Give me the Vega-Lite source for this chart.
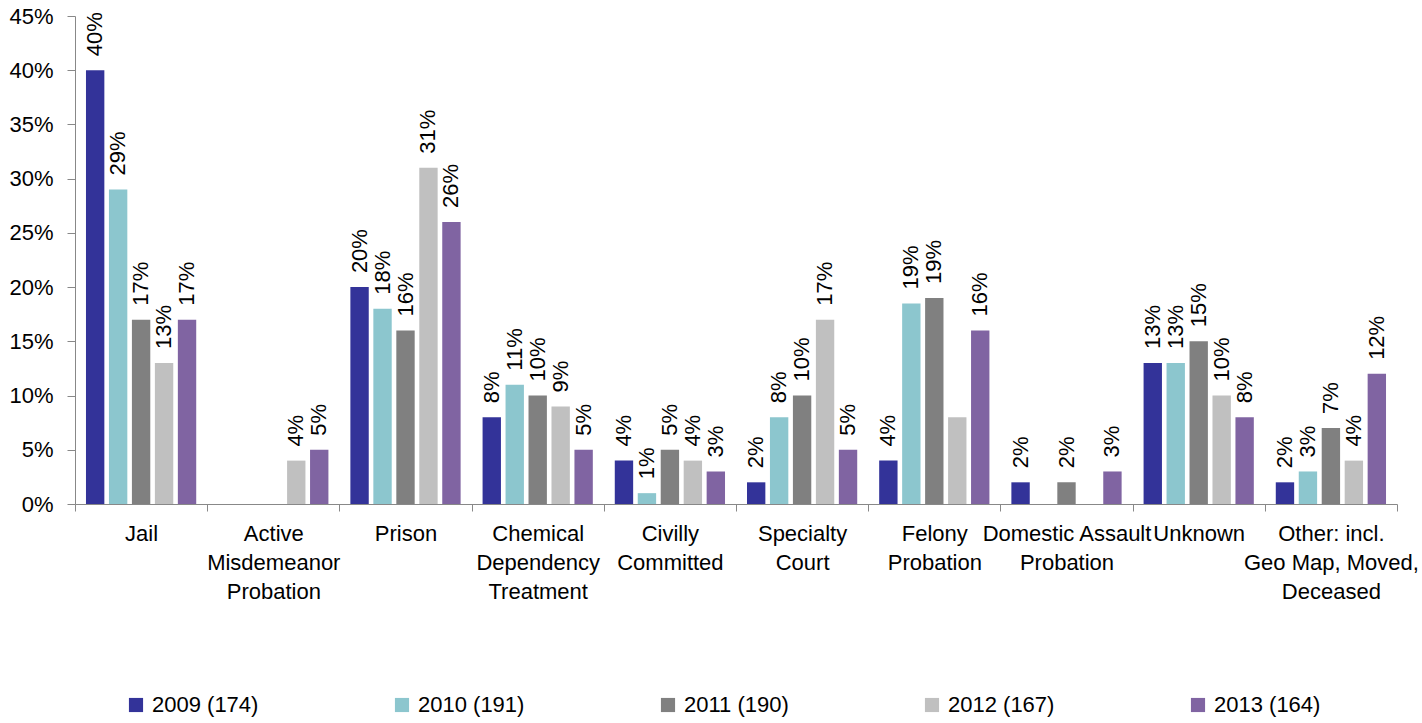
{
  "$schema": "https://vega.github.io/schema/vega-lite/v6.json",
  "width": 1322,
  "height": 488,
  "autosize": "none",
  "padding": {"left": 75, "top": 16, "right": 25, "bottom": 219},
  "background": "white",
  "config": {
    "view": {"stroke": null},
    "font": "Liberation Sans",
    "axis": {"labelFont": "Liberation Sans", "labelColor": "#000000", "domainColor": "#888888", "tickColor": "#888888", "grid": false}
  },
  "data": {
    "values": [
      {"cat": "Jail", "series": "2009 (174)", "value": 40, "label": "40%"},
      {"cat": "Jail", "series": "2010 (191)", "value": 29, "label": "29%"},
      {"cat": "Jail", "series": "2011 (190)", "value": 17, "label": "17%"},
      {"cat": "Jail", "series": "2012 (167)", "value": 13, "label": "13%"},
      {"cat": "Jail", "series": "2013 (164)", "value": 17, "label": "17%"},
      {"cat": "Active\nMisdemeanor\nProbation", "series": "2012 (167)", "value": 4, "label": "4%"},
      {"cat": "Active\nMisdemeanor\nProbation", "series": "2013 (164)", "value": 5, "label": "5%"},
      {"cat": "Prison", "series": "2009 (174)", "value": 20, "label": "20%"},
      {"cat": "Prison", "series": "2010 (191)", "value": 18, "label": "18%"},
      {"cat": "Prison", "series": "2011 (190)", "value": 16, "label": "16%"},
      {"cat": "Prison", "series": "2012 (167)", "value": 31, "label": "31%"},
      {"cat": "Prison", "series": "2013 (164)", "value": 26, "label": "26%"},
      {"cat": "Chemical\nDependency\nTreatment", "series": "2009 (174)", "value": 8, "label": "8%"},
      {"cat": "Chemical\nDependency\nTreatment", "series": "2010 (191)", "value": 11, "label": "11%"},
      {"cat": "Chemical\nDependency\nTreatment", "series": "2011 (190)", "value": 10, "label": "10%"},
      {"cat": "Chemical\nDependency\nTreatment", "series": "2012 (167)", "value": 9, "label": "9%"},
      {"cat": "Chemical\nDependency\nTreatment", "series": "2013 (164)", "value": 5, "label": "5%"},
      {"cat": "Civilly\nCommitted", "series": "2009 (174)", "value": 4, "label": "4%"},
      {"cat": "Civilly\nCommitted", "series": "2010 (191)", "value": 1, "label": "1%"},
      {"cat": "Civilly\nCommitted", "series": "2011 (190)", "value": 5, "label": "5%"},
      {"cat": "Civilly\nCommitted", "series": "2012 (167)", "value": 4, "label": "4%"},
      {"cat": "Civilly\nCommitted", "series": "2013 (164)", "value": 3, "label": "3%"},
      {"cat": "Specialty\nCourt", "series": "2009 (174)", "value": 2, "label": "2%"},
      {"cat": "Specialty\nCourt", "series": "2010 (191)", "value": 8, "label": "8%"},
      {"cat": "Specialty\nCourt", "series": "2011 (190)", "value": 10, "label": "10%"},
      {"cat": "Specialty\nCourt", "series": "2012 (167)", "value": 17, "label": "17%"},
      {"cat": "Specialty\nCourt", "series": "2013 (164)", "value": 5, "label": "5%"},
      {"cat": "Felony\nProbation", "series": "2009 (174)", "value": 4, "label": "4%"},
      {"cat": "Felony\nProbation", "series": "2010 (191)", "value": 18.5, "label": "19%"},
      {"cat": "Felony\nProbation", "series": "2011 (190)", "value": 19, "label": "19%"},
      {"cat": "Felony\nProbation", "series": "2012 (167)", "value": 8, "label": ""},
      {"cat": "Felony\nProbation", "series": "2013 (164)", "value": 16, "label": "16%"},
      {"cat": "Domestic Assault\nProbation", "series": "2009 (174)", "value": 2, "label": "2%"},
      {"cat": "Domestic Assault\nProbation", "series": "2011 (190)", "value": 2, "label": "2%"},
      {"cat": "Domestic Assault\nProbation", "series": "2013 (164)", "value": 3, "label": "3%"},
      {"cat": "Unknown", "series": "2009 (174)", "value": 13, "label": "13%"},
      {"cat": "Unknown", "series": "2010 (191)", "value": 13, "label": "13%"},
      {"cat": "Unknown", "series": "2011 (190)", "value": 15, "label": "15%"},
      {"cat": "Unknown", "series": "2012 (167)", "value": 10, "label": "10%"},
      {"cat": "Unknown", "series": "2013 (164)", "value": 8, "label": "8%"},
      {"cat": "Other: incl.\nGeo Map, Moved,\nDeceased", "series": "2009 (174)", "value": 2, "label": "2%"},
      {"cat": "Other: incl.\nGeo Map, Moved,\nDeceased", "series": "2010 (191)", "value": 3, "label": "3%"},
      {"cat": "Other: incl.\nGeo Map, Moved,\nDeceased", "series": "2011 (190)", "value": 7, "label": "7%"},
      {"cat": "Other: incl.\nGeo Map, Moved,\nDeceased", "series": "2012 (167)", "value": 4, "label": "4%"},
      {"cat": "Other: incl.\nGeo Map, Moved,\nDeceased", "series": "2013 (164)", "value": 12, "label": "12%"}
    ]
  },
  "encoding": {
    "x": {
      "field": "cat", "type": "nominal", "sort": null,
      "scale": {"paddingInner": 0, "paddingOuter": 0},
      "axis": {
        "title": null, "labelAngle": 0, "tickBand": "extent", "tickSize": 7,
        "labelFontSize": 22, "labelLineHeight": 29, "labelPadding": 12,
        "labelOverlap": false, "labelLimit": 0, "labelBaseline": "top",
        "labelExpr": "split(datum.label, '\\n')"
      }
    },
    "xOffset": {
      "field": "series", "type": "nominal",
      "scale": {"paddingInner": 0.2, "paddingOuter": 0.478}
    },
    "y": {
      "field": "value", "type": "quantitative",
      "scale": {"domain": [0, 45], "nice": false},
      "axis": {
        "title": null, "values": [0, 5, 10, 15, 20, 25, 30, 35, 40, 45],
        "labelExpr": "datum.value + '%'", "tickSize": 8, "labelPadding": 14,
        "labelFontSize": 22
      }
    }
  },
  "layer": [
    {
      "mark": {"type": "bar"},
      "encoding": {
        "color": {
          "field": "series", "type": "nominal",
          "scale": {
            "domain": ["2009 (174)", "2010 (191)", "2011 (190)", "2012 (167)", "2013 (164)"],
            "range": ["#333399", "#8cc6ce", "#808080", "#c0c0c0", "#8064a2"]
          },
          "legend": {
            "title": null, "orient": "none", "direction": "horizontal",
            "legendX": 50, "legendY": 678,
            "symbolType": "square", "symbolSize": 200, "symbolStrokeWidth": 0,
            "labelFontSize": 22, "labelFont": "Liberation Sans", "labelColor": "#000000",
            "labelOffset": 5, "columnPadding": 132, "labelLimit": 0
          }
        }
      }
    },
    {
      "mark": {"type": "text", "angle": -90, "align": "left", "baseline": "middle", "dx": 14, "fontSize": 22, "font": "Liberation Sans", "color": "#000000"},
      "encoding": {"text": {"field": "label"}}
    }
  ]
}
